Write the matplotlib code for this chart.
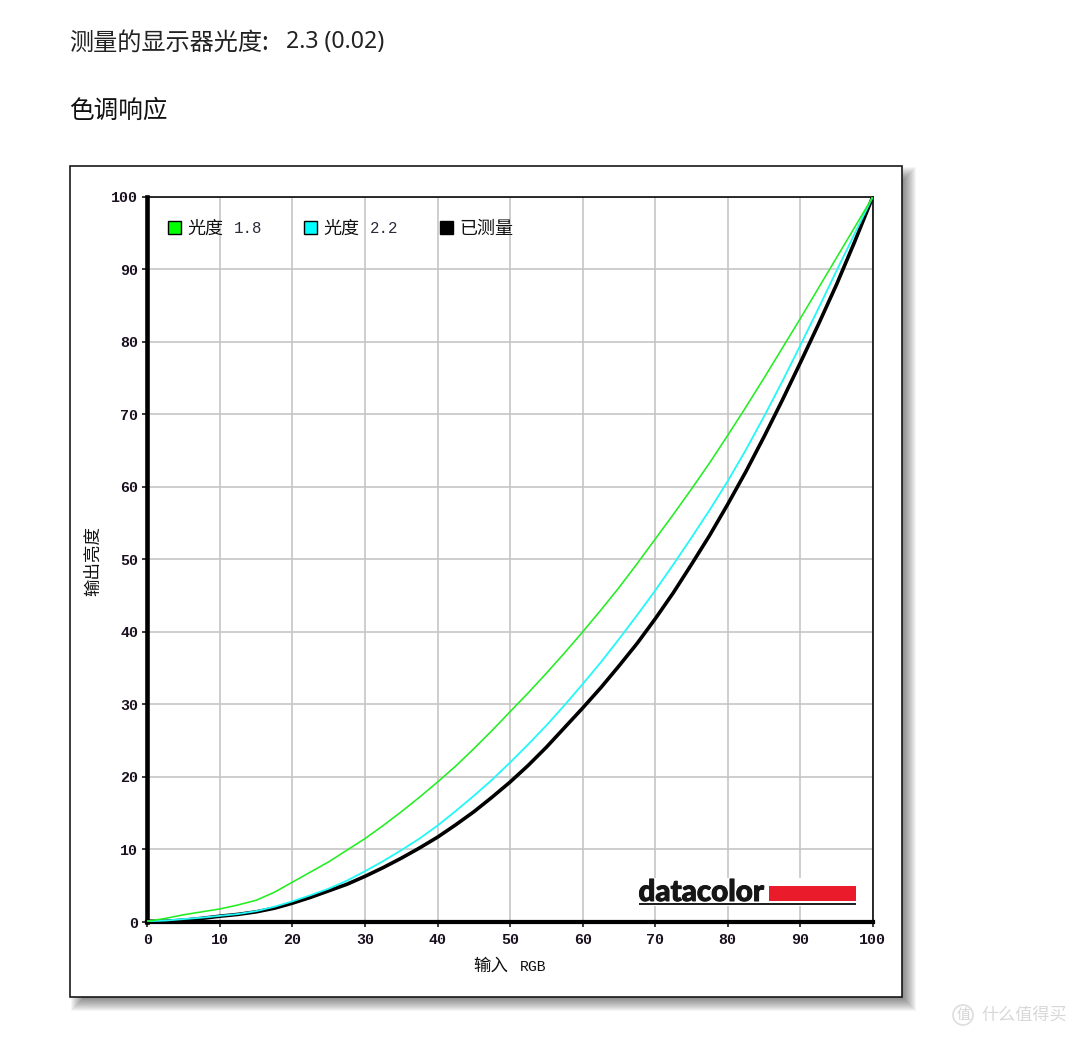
import matplotlib
matplotlib.use("Agg")
import matplotlib.pyplot as plt
import matplotlib.patheffects as pe
from matplotlib.patches import Rectangle, Circle

plt.rcParams["font.family"] = ["Noto Sans CJK SC", "DejaVu Sans"]

# Tone response curves (input RGB % -> output luminance %)
input_rgb = [0, 2.5, 5, 7.5, 10, 12.5, 15, 17.5, 20, 22.5, 25, 27.5, 30, 32.5, 35, 37.5, 40, 42.5, 45, 47.5,
             50, 52.5, 55, 57.5, 60, 62.5, 65, 67.5, 70, 72.5, 75, 77.5, 80, 82.5, 85, 87.5, 90, 92.5, 95, 97.5, 100]
gamma_18 = [0.1, 0.5, 1.0, 1.4, 1.8, 2.35, 3.0, 4.1, 5.5, 6.9, 8.3, 9.9, 11.5, 13.3, 15.2, 17.2, 19.3, 21.5, 23.9, 26.4,
            29.0, 31.6, 34.3, 37.1, 40.0, 43.0, 46.1, 49.4, 52.8, 56.2, 59.7, 63.3, 67.1, 71.0, 75.0, 79.1, 83.2, 87.4, 91.6, 95.8, 100]
gamma_22 = [0.1, 0.2, 0.4, 0.6, 0.85, 1.1, 1.5, 2.1, 2.85, 3.7, 4.6, 5.7, 7.0, 8.4, 9.9, 11.5, 13.3, 15.3, 17.4, 19.6,
            22.0, 24.5, 27.1, 29.9, 32.8, 35.8, 39.0, 42.3, 45.7, 49.3, 53.0, 56.8, 60.8, 65.1, 69.7, 74.5, 79.5, 84.6, 89.8, 94.9, 100]
measured = [0.1, 0.1, 0.25, 0.5, 0.8, 1.05, 1.4, 1.9, 2.6, 3.4, 4.3, 5.2, 6.3, 7.5, 8.8, 10.2, 11.7, 13.4, 15.2, 17.2,
            19.3, 21.6, 24.1, 26.8, 29.5, 32.3, 35.3, 38.4, 41.8, 45.4, 49.3, 53.3, 57.6, 62.1, 66.9, 71.9, 77.1, 82.4, 87.9, 93.8, 100]

ticks = list(range(0, 101, 10))
title_cjk = "测量的显示器光度:"
title_value = "2.3 (0.02)"
section_line = "色调响应"
x_title = ("输入", "RGB")
y_title = "输出亮度"
legend_names = ["光度", "光度", "已测量"]
legend_values = ["1.8", "2.2", ""]
legend_colors = ["#00ff00", "#00ffff", "#000000"]

W, H = 1080, 1037
fig = plt.figure(figsize=(W / 100, H / 100), dpi=100, facecolor="white")
px = 0.72  # one pixel in points


def pixel_axes(z):
    a = fig.add_axes([0, 0, 1, 1], zorder=z)
    a.set_xlim(0, W)
    a.set_ylim(H, 0)
    a.axis("off")
    a.patch.set_alpha(0)
    return a


back = pixel_axes(0)

# Soft drop shadow behind the chart panel
for i in range(14):
    grow = 7 - i
    back.add_patch(Rectangle((70 + 8 - grow, 166 + 8 - grow), 832 + 2 * grow - 1, 831 + 2 * grow - 1,
                             fc="#000000", ec="none", alpha=0.04))
back.add_patch(Rectangle((70, 166), 832, 831, fc="white", ec="#111111", lw=1.6 * px))

back.text(69, 42.5, title_cjk, fontsize=17.4, color="#222222", va="center", ha="left")
back.text(286, 42.5, title_value, fontsize=16.6, color="#222222", va="center", ha="left",
          family="Noto Sans")
back.text(69, 111, section_line, fontsize=17.7, color="#111111", va="center", ha="left")

# Watermark at the lower right corner
back.add_patch(Circle((963, 1015), 10, fc="none", ec="#dddddd", lw=1.2))
back.text(963, 1015, "值", fontsize=10, color="#d4d4d4", ha="center", va="center")
back.text(981, 1015, "什么值得买", fontsize=12.3, color="#d8d8d8", ha="left", va="center",
          fontweight="light")

# Main plot area
ax = fig.add_axes([147.4 / W, 1 - 922 / H, (872.8 - 147.4) / W, (922 - 196.8) / H], zorder=1)
ax.patch.set_alpha(0)
ax.set_xlim(0, 100)
ax.set_ylim(0, 100)
ax.set_xticks(ticks)
ax.set_yticks(ticks)
ax.grid(True, color="#c4c4c4", lw=1.6 * px)
ax.set_axisbelow(True)
ax.tick_params(length=5 * px, width=1.5 * px, color="black")
ax.tick_params(axis="x", pad=4.5)
ax.tick_params(axis="y", pad=3)
for lab in ax.get_xticklabels() + ax.get_yticklabels():
    lab.set_family("Liberation Mono")
    lab.set_fontsize(10.8)
    lab.set_color("#1a1020")
    lab.set_fontweight("bold")
ax.spines["left"].set_linewidth(4.6 * px)
ax.spines["bottom"].set_linewidth(4.2 * px)
ax.spines["top"].set_linewidth(1.6 * px)
ax.spines["right"].set_linewidth(1.6 * px)

ax.plot(input_rgb, measured, color="#000000", lw=3.6 * px, zorder=3.0, solid_joinstyle="round")
ax.plot(input_rgb, gamma_22, color="#22f8f8", lw=1.8 * px, zorder=3.2, solid_joinstyle="round")
ax.plot(input_rgb, gamma_18, color="#22ee22", lw=1.6 * px, zorder=3.4, solid_joinstyle="round")

# Axis captions, legend and vendor mark sit on top in pixel coordinates
top = pixel_axes(2)
top.text(473, 966, x_title[0], fontsize=12.6, ha="left", va="center", color="#111111")
top.text(520, 967, x_title[1], fontsize=10.6, ha="left", va="center", color="#111111",
         family="Liberation Mono")
top.text(93, 561, y_title, fontsize=12.6, rotation=90, ha="center", va="center", color="#111111")

swatch_x = [168, 304, 440]
for x0, name, value, col in zip(swatch_x, legend_names, legend_values, legend_colors):
    top.add_patch(Rectangle((x0, 221), 13, 13, fc=col, ec="black", lw=1.4 * px))
    top.text(x0 + 19.5, 228.5, name, fontsize=13, ha="left", va="center", color="#111111")
    if value:
        top.text(x0 + 65.5, 228.5, value, fontsize=11.3, ha="left", va="center", color="#2a2a3a",
                 family="Liberation Mono")

top.add_patch(Rectangle((636, 878), 222, 27.5, fc="white", ec="none"))
top.text(638.5, 901, "datacolor", fontsize=21.3, fontweight="black", color="#161616",
         family="Lato", ha="left", va="baseline",
         path_effects=[pe.withStroke(linewidth=0.7, foreground="#161616")])
top.add_patch(Rectangle((769, 885.5), 87, 15.5, fc="#ea1c2c", ec="none"))
top.add_patch(Rectangle((639, 903), 217, 2.2, fc="#222222", ec="none"))

fig.savefig("out.png", dpi=100, facecolor="white")
